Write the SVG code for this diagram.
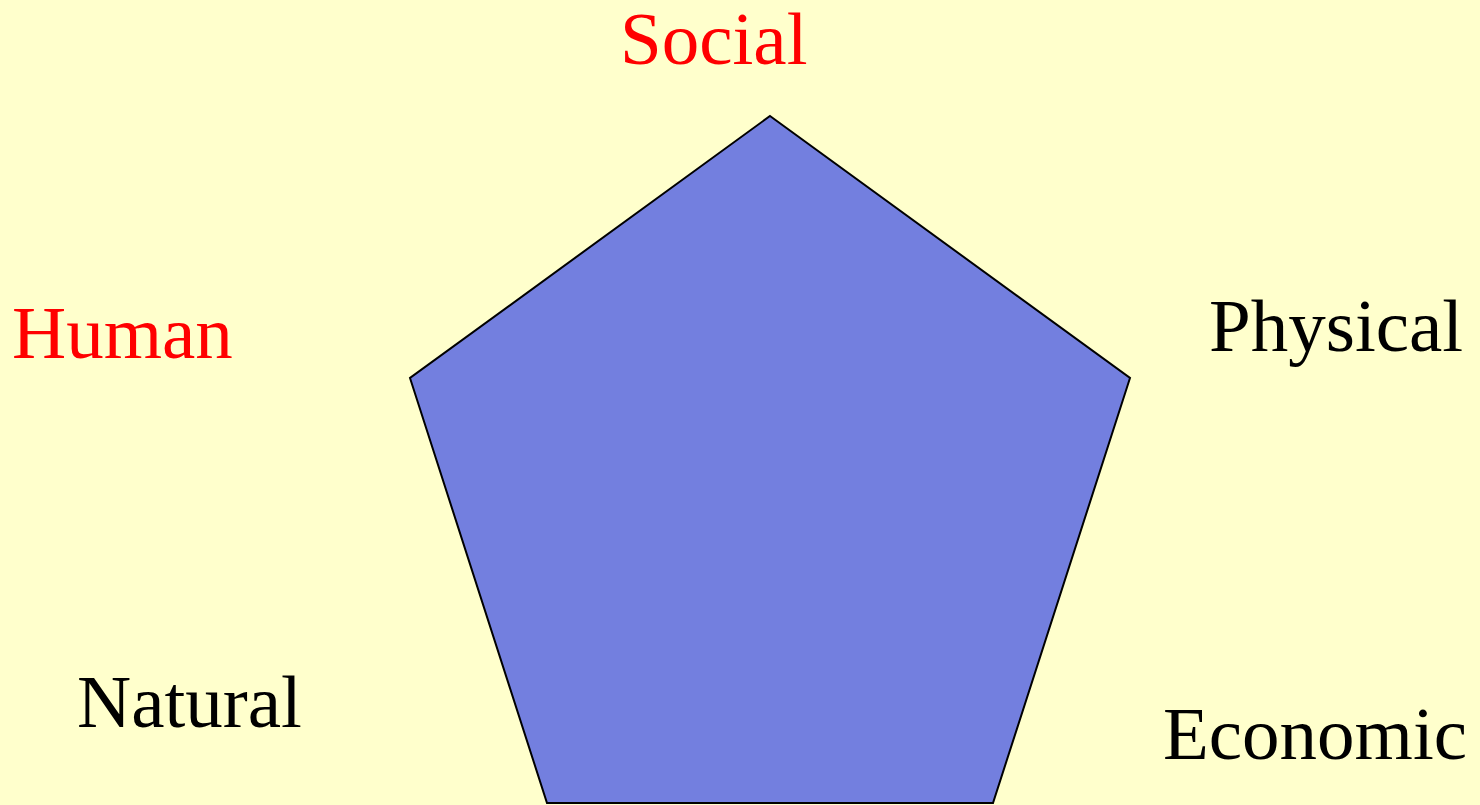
<svg xmlns="http://www.w3.org/2000/svg" width="1480" height="805" viewBox="0 0 1480 805">
<style>
.lbl{font-family:"Liberation Serif","Times New Roman",serif;font-size:75px}
.red{fill:#FF0000}
.blk{fill:#000000}
</style>
<rect x="0" y="0" width="1480" height="805" fill="#FFFFCC"/>
<g id="pentagon">
<polygon points="770,116 1130,378 993,803 547,803 410,378" fill="#737FDF" stroke="#000000" stroke-width="2"/>
</g>
<g id="connectors"></g>
<g id="social"><text class="lbl red" x="620" y="64">Social</text></g>
<g id="human"><text class="lbl red" x="12" y="358">Human</text></g>
<g id="physical"><text class="lbl blk" x="1209" y="351">Physical</text></g>
<g id="natural"><text class="lbl blk" x="77" y="727">Natural</text></g>
<g id="economic"><text class="lbl blk" x="1163" y="759">Economic</text></g>
</svg>
